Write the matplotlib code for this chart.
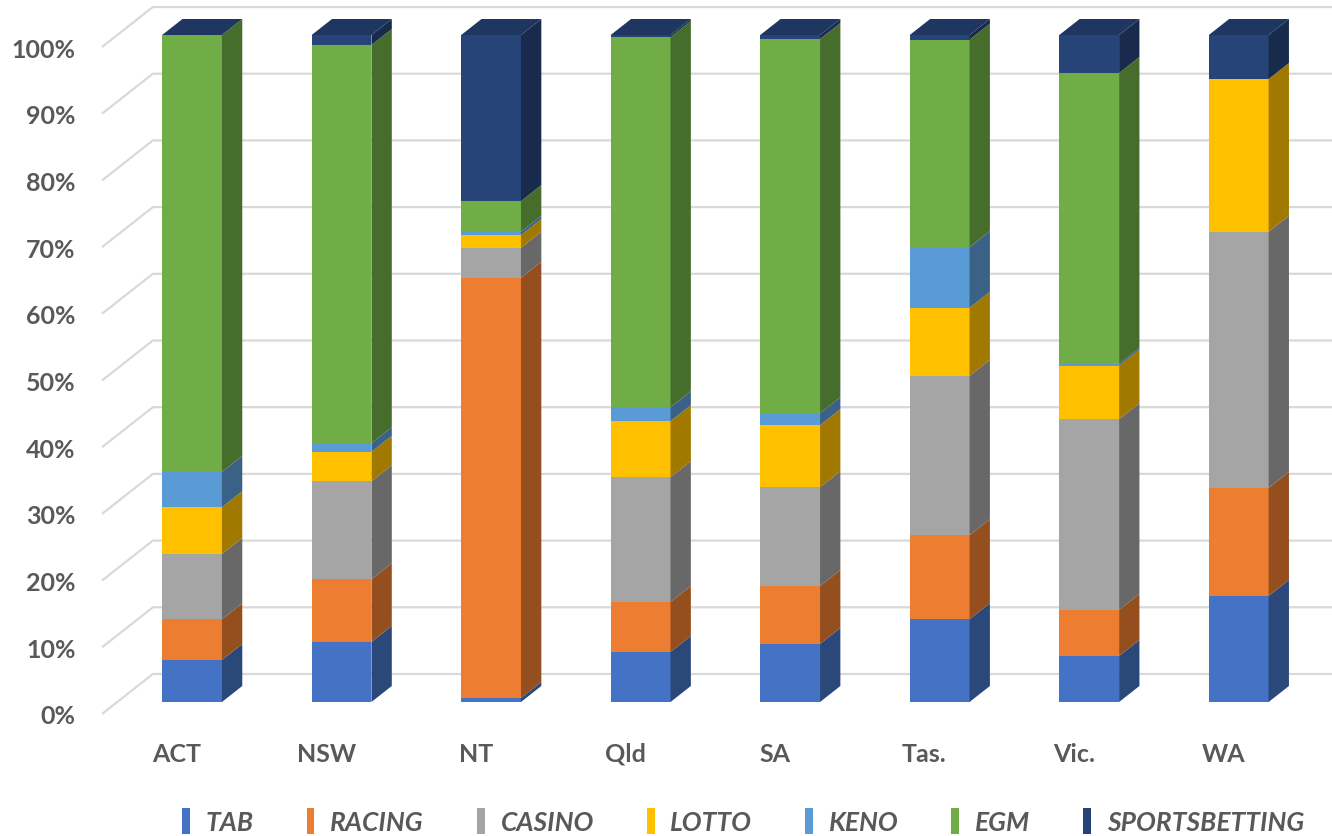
import matplotlib
matplotlib.use("Agg")
import matplotlib.pyplot as plt
from matplotlib.patches import Polygon, Patch
import numpy as np

plt.rcParams['font.family'] = ['Lato', 'DejaVu Sans']

states = ["ACT", "NSW", "NT", "Qld", "SA", "Tas.", "Vic.", "WA"]
series = ["TAB", "RACING", "CASINO", "LOTTO", "KENO", "EGM", "SPORTSBETTING"]

tab = [6.3, 9.0, 0.6, 7.5, 8.7, 12.4, 6.9, 15.9]
racing = [6.1, 9.4, 63.0, 7.5, 8.7, 12.6, 6.9, 16.2]
casino = [9.8, 14.7, 4.5, 18.7, 14.8, 23.9, 28.6, 38.4]
lotto = [7.0, 4.4, 1.9, 8.4, 9.3, 10.2, 8.0, 22.9]
keno = [5.3, 1.3, 0.5, 2.1, 1.8, 9.1, 0.3, 0.0]
egm = [65.5, 59.7, 4.6, 55.5, 56.1, 31.1, 43.6, 0.0]
sports = [0.0, 1.5, 24.9, 0.3, 0.6, 0.7, 5.7, 6.6]

colors = ["#4472C4", "#ED7D31", "#A5A5A5", "#FFC000", "#5B9BD5", "#70AD47", "#264478"]


def shade(hex_color, f):
    r, g, b = matplotlib.colors.to_rgb(hex_color)
    return (r * f, g * f, b * f)


values = np.array([tab, racing, casino, lotto, keno, egm, sports])
values = values / values.sum(axis=0) * 100

# pseudo 3D geometry (depth measured in % units)
k = 0.0567          # x shift per unit of depth
bar_front = 1.8
bar_depth = 2.4
wall = 6.0
w = 0.40
xmax = 7.726

fig = plt.figure(figsize=(13.32, 8.37), dpi=100)
ax = fig.add_axes([102 / 1332, 122 / 837, 1 - 102 / 1332, 1 - 122 / 837])
ax.set_xlim(-0.5, xmax)
ax.set_ylim(0, 107.2)
for s in ax.spines.values():
    s.set_visible(False)

grid_c = "#D9D9D9"
for v in range(0, 101, 10):
    ax.plot([-0.5, -0.5 + wall * k, xmax], [v, v + wall, v + wall],
            color=grid_c, lw=1.6, zorder=1, clip_on=False, solid_capstyle="butt")

x = np.arange(len(states))
bottoms = np.zeros(len(states))
for si, name in enumerate(series):
    col = colors[si]
    side = shade(col, 0.63)
    for i in range(len(states)):
        b = bottoms[i]
        t = b + values[si, i]
        if t - b <= 0:
            continue
        x0 = x[i] + bar_front * k - w / 2
        x1 = x0 + w
        y0 = b + bar_front
        y1 = t + bar_front
        ax.add_patch(Polygon([(x0, y0), (x1, y0), (x1, y1), (x0, y1)],
                             closed=True, fc=col, ec="none", zorder=3))
        ax.add_patch(Polygon([(x1, y0), (x1 + bar_depth * k, y0 + bar_depth),
                              (x1 + bar_depth * k, y1 + bar_depth), (x1, y1)],
                             closed=True, fc=side, ec="none", zorder=3))
    bottoms += values[si]

# top faces
for i in range(len(states)):
    x0 = x[i] + bar_front * k - w / 2
    x1 = x0 + w
    yt = bottoms[i] + bar_front
    ax.add_patch(Polygon([(x0, yt), (x1, yt), (x1 + bar_depth * k, yt + bar_depth),
                          (x0 + bar_depth * k, yt + bar_depth)],
                         closed=True, fc=shade(colors[-1], 0.8), ec="none", zorder=3))

ax.set_yticks(range(0, 101, 10))
ax.set_yticklabels([f"{v}%" for v in range(0, 101, 10)])
ax.set_xticks(x)
ax.set_xticklabels(states)
ax.tick_params(axis="both", length=0, labelsize=18, labelcolor="#595959")
ax.tick_params(axis="y", pad=19)
ax.tick_params(axis="x", pad=20)
for lab in ax.get_xticklabels() + ax.get_yticklabels():
    lab.set_fontweight("bold")

handles = [Patch(fc=c, ec="none") for c in colors]
fig.legend(handles, series, loc="center", bbox_to_anchor=(743 / 1332, 1 - 822 / 837),
           ncol=7, frameon=False, handlelength=0.3, handleheight=1.1,
           handletextpad=0.6, columnspacing=2.0,
           prop={"size": 19, "style": "italic", "weight": "bold"},
           labelcolor="#595959")

fig.savefig("out.png", dpi=100)
